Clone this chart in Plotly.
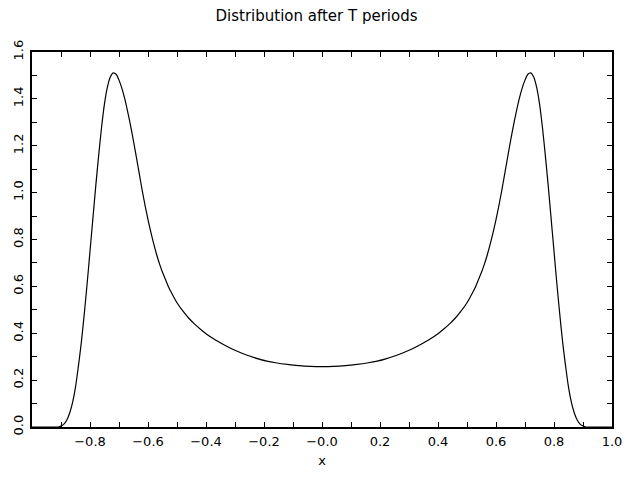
import plotly.graph_objects as go

x_left = [-1.0, -0.95, -0.91, -0.90, -0.89, -0.88, -0.87, -0.86, -0.85, -0.84,
          -0.83, -0.82, -0.81, -0.80, -0.79, -0.78, -0.77, -0.76, -0.75, -0.74,
          -0.73, -0.72, -0.71, -0.70, -0.69, -0.68, -0.67, -0.66, -0.65, -0.64,
          -0.63, -0.62, -0.61, -0.60, -0.59, -0.58, -0.57, -0.56, -0.55, -0.54,
          -0.53, -0.52, -0.50, -0.48, -0.46, -0.44, -0.42, -0.40, -0.37, -0.34,
          -0.31, -0.28, -0.25, -0.22, -0.19, -0.16, -0.12, -0.08, -0.04]
y_left = [0.0, 0.0, 0.0, 0.004, 0.012, 0.03, 0.06, 0.105, 0.17, 0.26,
          0.36, 0.48, 0.61, 0.75, 0.89, 1.03, 1.16, 1.28, 1.38, 1.45,
          1.493, 1.511, 1.505, 1.48, 1.445, 1.40, 1.345, 1.285, 1.22, 1.15,
          1.08, 1.01, 0.945, 0.885, 0.83, 0.78, 0.735, 0.695, 0.66, 0.63,
          0.60, 0.575, 0.53, 0.495, 0.465, 0.44, 0.418, 0.398, 0.373, 0.352,
          0.333, 0.317, 0.303, 0.291, 0.281, 0.274, 0.267, 0.262, 0.259]
x_mid = [0.0]
y_mid = [0.258]
x_right = [0.04, 0.08, 0.12, 0.16, 0.19, 0.22, 0.25, 0.28, 0.31, 0.34,
           0.37, 0.40, 0.42, 0.44, 0.46, 0.48, 0.50, 0.52, 0.53, 0.54,
           0.55, 0.56, 0.57, 0.58, 0.59, 0.60, 0.61, 0.62, 0.63, 0.64,
           0.65, 0.66, 0.67, 0.68, 0.69, 0.70, 0.71, 0.72, 0.73, 0.74,
           0.75, 0.76, 0.77, 0.78, 0.79, 0.80, 0.81, 0.82, 0.83, 0.84,
           0.85, 0.86, 0.87, 0.88, 0.89, 0.90, 0.91, 0.95, 1.0]
y_right = [0.259, 0.262, 0.267, 0.274, 0.281, 0.291, 0.303, 0.317, 0.333, 0.352,
           0.373, 0.398, 0.418, 0.44, 0.465, 0.495, 0.53, 0.575, 0.60, 0.63,
           0.66, 0.695, 0.735, 0.78, 0.83, 0.885, 0.945, 1.01, 1.08, 1.15,
           1.22, 1.285, 1.345, 1.40, 1.445, 1.48, 1.505, 1.511, 1.493, 1.45,
           1.38, 1.28, 1.16, 1.03, 0.89, 0.75, 0.61, 0.48, 0.36, 0.26,
           0.17, 0.105, 0.06, 0.03, 0.012, 0.004, 0.0, 0.0, 0.0]

x_tickvals = [-0.8, -0.6, -0.4, -0.2, 0.0, 0.2, 0.4, 0.6, 0.8, 1.0]
x_ticktext = ["\u22120.8", "\u22120.6", "\u22120.4", "\u22120.2", "\u22120.0",
              "0.2", "0.4", "0.6", "0.8", "1.0"]
y_tickvals = [0.0, 0.2, 0.4, 0.6, 0.8, 1.0, 1.2, 1.4, 1.6]
y_ticktext = ["0.0", "0.2", "0.4", "0.6", "0.8", "1.0", "1.2", "1.4", "1.6"]

title_text = "Distribution after T periods"
x_label = "x"

x_all = x_left + x_mid + x_right
y_all = y_left + y_mid + y_right

fig = go.Figure()
fig.add_trace(go.Scatter(x=x_all, y=y_all, mode="lines",
                         line=dict(color="black", width=1.2, shape="spline", smoothing=0.8),
                         showlegend=False, hoverinfo="skip"))

font_family = "DejaVu Sans"
axis_common = dict(showgrid=False, zeroline=False, showline=True, linecolor="black",
                   linewidth=2, mirror="ticks", ticks="inside", ticklen=5, tickwidth=1,
                   tickcolor="black", tickfont=dict(family=font_family, size=13, color="black"))

fig.update_layout(
    width=633, height=477,
    margin=dict(l=31, r=11, t=52, b=47),
    paper_bgcolor="white", plot_bgcolor="white",
    title=dict(text=title_text, x=0.5, xanchor="center", y=1 - 16 / 477, yanchor="middle",
               font=dict(family=font_family, size=15, color="black")),
    xaxis=dict(range=[-1.0, 1.0], tickmode="array", tickvals=x_tickvals, ticktext=x_ticktext,
               title=dict(text=x_label, font=dict(family=font_family, size=13, color="black"),
                          standoff=8),
               minor=dict(dtick=0.1, tick0=0, ticks="inside", ticklen=5, tickcolor="black"),
               ticklabelstandoff=1,
               **axis_common),
    yaxis=dict(range=[0.0, 1.6], tickmode="array", tickvals=y_tickvals, ticktext=y_ticktext,
               tickangle=-90,
               minor=dict(dtick=0.1, tick0=0, ticks="inside", ticklen=5, tickcolor="black"),
               ticklabelstandoff=2,
               **axis_common),
)

fig.write_html("out.html", config={"displayModeBar": False},
               post_script="document.body.style.margin='0';")
